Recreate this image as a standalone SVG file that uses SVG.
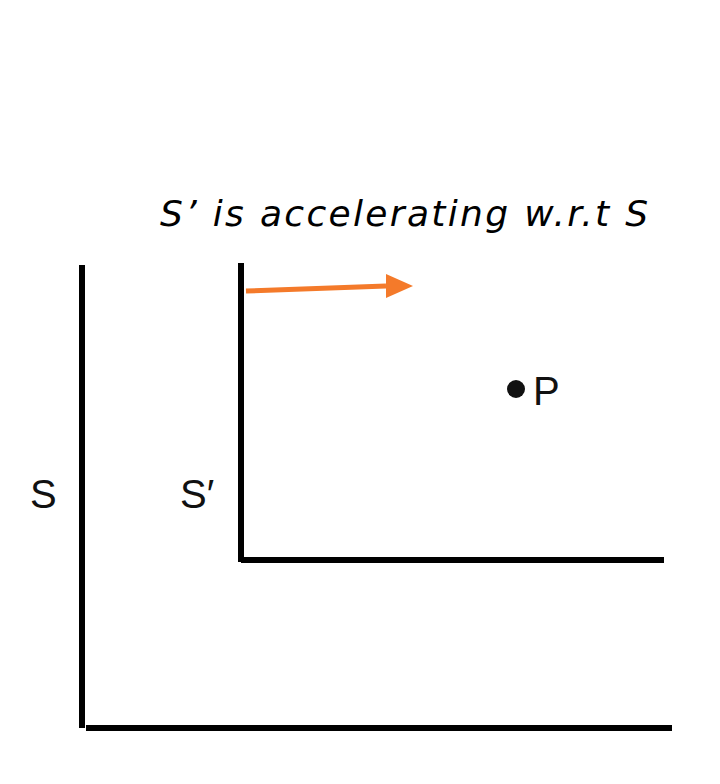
<svg xmlns="http://www.w3.org/2000/svg" width="720" height="784" viewBox="0 0 720 784">
<style>
.ax{stroke:#000;stroke-width:6;fill:none}
.lbl{font-family:"Liberation Sans",Arial,sans-serif;font-size:40px;fill:#111}
</style>
<rect width="720" height="784" fill="#fff"/>
<text x="160" y="226" font-family="DejaVu Sans,sans-serif" font-style="italic" font-size="36" textLength="488" lengthAdjust="spacing" fill="#000">S’ is accelerating w.r.t S</text>
<g id="frameS"><path class="ax" d="M82,265 V728 M86,728 H672"/><text class="lbl" x="30" y="508">S</text></g>
<g id="frameS2"><path class="ax" d="M241,263 V562 M241,560 H664"/><text class="lbl" x="180" y="508">S′</text></g>
<g id="connectors"><path d="M246,291 L386,286" stroke="#f47a2a" stroke-width="5" fill="none"/><path d="M386,274 L413,286 L386,298 z" fill="#f47a2a"/></g>
<g id="P"><circle cx="516" cy="389" r="9" fill="#111"/><text class="lbl" x="533" y="405">P</text></g>
</svg>
